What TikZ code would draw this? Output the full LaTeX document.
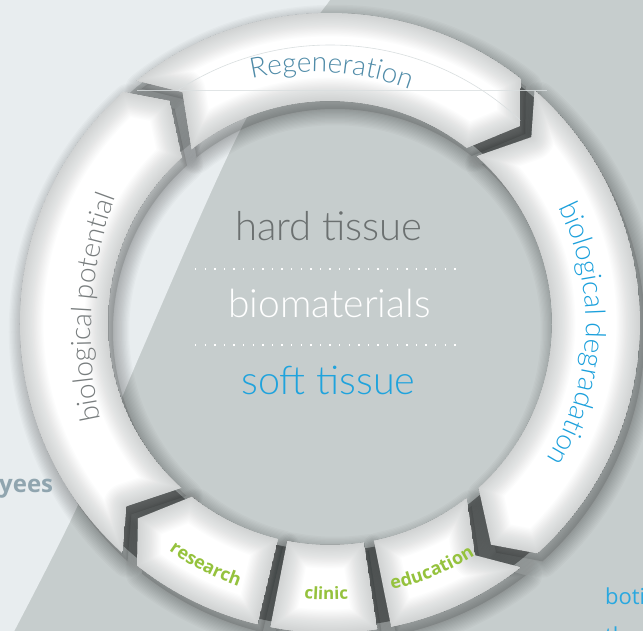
\documentclass[tikz,border=0pt]{standalone}
\usepackage{fontspec}
\usetikzlibrary{decorations.text}
\IfFontExistsTF{Lato Light}{\newfontfamily\thinf{Lato Light}}{%
  \IfFontExistsTF{Fira Sans Light}{\newfontfamily\thinf{Fira Sans Light}}{\newfontfamily\thinf{Liberation Sans}}}
\newfontfamily\labf{Open Sans}

\definecolor{bglight}{HTML}{E8EDEF}
\definecolor{bggray}{HTML}{C6CDCD}
\definecolor{gapdark}{HTML}{7A8080}
\definecolor{gaplight}{HTML}{C3C9CA}
\definecolor{edgegray}{HTML}{7C8282}
\definecolor{regblue}{HTML}{4F8BA8}
\definecolor{potgray}{HTML}{787D7E}
\definecolor{degblue}{HTML}{1BA0DC}
\definecolor{hardgray}{HTML}{6B7070}
\definecolor{softblue}{HTML}{1FA3DD}
\definecolor{lgreen}{HTML}{95C23D}
\definecolor{yeesgray}{HTML}{90A5AF}
\definecolor{botiblue}{HTML}{29A8E0}
\definecolor{faintline}{HTML}{DADFE0}

\def\RingOut{310}
\def\RingIn{222}
\def\RingMid{274}
\def\Chev{6}

% notch start, tip end
\newcommand\pathNT[2]{(#1:\RingOut) arc[start angle=#1,end angle=#2,radius=\RingOut] -- ({#2-\Chev}:\RingMid) -- (#2:\RingIn) arc[start angle=#2,end angle=#1,radius=\RingIn] -- ({#1-\Chev}:\RingMid) -- cycle}
% notch start, straight end
\newcommand\pathNS[2]{(#1:\RingOut) arc[start angle=#1,end angle=#2,radius=\RingOut] -- (#2:\RingIn) arc[start angle=#2,end angle=#1,radius=\RingIn] -- ({#1-\Chev}:\RingMid) -- cycle}
% straight both
\newcommand\pathSS[2]{(#1:\RingOut) arc[start angle=#1,end angle=#2,radius=\RingOut] -- (#2:\RingIn) arc[start angle=#2,end angle=#1,radius=\RingIn] -- cycle}
% straight start, tip end
\newcommand\pathST[2]{(#1:\RingOut) arc[start angle=#1,end angle=#2,radius=\RingOut] -- ({#2-\Chev}:\RingMid) -- (#2:\RingIn) arc[start angle=#2,end angle=#1,radius=\RingIn] -- cycle}

\def\SegPot{\pathNT{228}{131.8}}
\def\SegReg{\pathNT{128.6}{52}}
\def\SegDeg{\pathNT{48.7}{-48}}
\def\SegEdu{\pathNS{-52}{-78.6}}
\def\SegCli{\pathSS{-81.2}{-101.1}}
\def\SegRes{\pathST{-103.5}{-128.5}}

\newcommand\segshadow[1]{%
  \fill[black,opacity=0.12,shift={(5,-8)}] #1;
  \foreach \i [evaluate=\i as \ww using 2.5*\i] in {1,...,13}{\draw[black,opacity=0.018,line width=\ww,line join=round,shift={(5,-8)}] #1;}}
\newcommand\segface[1]{%
  \begin{scope}
    \clip #1;
    \fill[white] #1;
    \foreach \i [evaluate=\i as \ww using 2.6*\i] in {1,...,18}{\draw[edgegray,opacity=0.02,line width=\ww,line join=round] #1;}
  \end{scope}}

\tikzset{
  thintext/.style={font=\thinf\fontsize{#1}{40}\selectfont, inner sep=0pt, anchor=base},
  dotrule/.style={white, line width=2.8pt, dash pattern=on 1.5pt off 8.1pt},
  ringlabel/.style={decorate, decoration={text along path, text align=center, text={#1}}}
}

\begin{document}
\begin{tikzpicture}[x=1pt,y=1pt]
\useasboundingbox (-330,-308) rectangle (313,323);
\clip (-330,-308) rectangle (313,323);

% background
\fill[bggray] (-340,-320) rectangle (320,335);
\fill[bglight] (-340,335) -- plot[smooth] coordinates {(8,335) (0,323) (-84,204) (-191,-34) (-253,-184) (-322,-320)} -- (-340,-320) -- cycle;

% dark gaps between the pieces
\fill[gapdark, even odd rule] (0,0) circle[radius=304] (0,0) circle[radius=228];
\fill[gaplight] (120:305) arc[start angle=120,end angle=136,radius=305] -- (136:227) arc[start angle=136,end angle=120,radius=227] -- cycle;

% shadows
\segshadow{\SegPot}
\segshadow{\SegReg}
\segshadow{\SegDeg}
\segshadow{\SegEdu}
\segshadow{\SegCli}
\segshadow{\SegRes}

% faces
\segface{\SegPot}
\segface{\SegReg}
\segface{\SegDeg}
\segface{\SegEdu}
\segface{\SegCli}
\segface{\SegRes}

% faint guide lines on Regeneration
\begin{scope}
  \clip \SegReg;
  \draw[faintline, line width=0.6] (123:278) arc[start angle=123, end angle=46, radius=278];
\end{scope}
\coordinate (hla) at (-193,233);
\coordinate (hlb) at (217,233);
\draw[faintline, line width=0.6, opacity=0.8] (hla) -- (hlb);

% ring labels
\path[ringlabel={|\thinf\fontsize{28}{30}\selectfont\color{regblue}|Regeneration}]
  ([shift={(-18,-29)}]108:280) arc[start angle=108, end angle=64, radius=280];
\path[ringlabel={|\thinf\fontsize{28}{30}\selectfont\color{potgray}|biological potential}]
  ([shift={(154,-11.5)}]200:393) arc[start angle=200, end angle=152, radius=393];
\path[ringlabel={|\thinf\fontsize{28}{30}\selectfont\color{degblue}|biological degradation}]
  (32.4:256) arc[start angle=32.4, end angle=-37.6, radius=256];
\path[ringlabel={|\labf\bfseries\fontsize{18}{20}\selectfont\color{lgreen}|research}]
  (-137.2:279) arc[start angle=-137.2, end angle=-97.2, radius=279];
\path[ringlabel={|\labf\bfseries\fontsize{17}{20}\selectfont\color{lgreen}|clinic}]
  (-110.8:277) arc[start angle=-110.8, end angle=-70.8, radius=277];
\path[ringlabel={|\labf\bfseries\fontsize{18}{20}\selectfont\color{lgreen}|education}]
  (-87.5:274) arc[start angle=-87.5, end angle=-47.5, radius=274];

% centre texts
\node[thintext=40, text=hardgray] (hard) at (-1,82) {hard tissue};
\node[thintext=39, text=white] (bio) at (-0.5,5) {biomaterials};
\node[thintext=39.5, text=softblue] (soft) at (-1.5,-72) {soft tissue};
\coordinate (l1a) at (-135,54);
\coordinate (l1b) at (133,54);
\coordinate (l2a) at (-135,-22);
\coordinate (l2b) at (133,-22);
\draw[dotrule] (l1a) -- (l1b);
\draw[dotrule] (l2a) -- (l2b);

% cut-off page texts
\node[anchor=base west, inner sep=0pt, font=\labf\bfseries\fontsize{24}{24}\selectfont, text=yeesgray] (yees) at (-331,-170) {yees};
\node[anchor=base west, inner sep=0pt, font=\labf\fontsize{22}{22}\selectfont, text=botiblue] (boti) at (275,-282) {boti};
\node[anchor=base west, inner sep=0pt, font=\labf\fontsize{22}{22}\selectfont, text=botiblue] (th) at (275,-321) {th};
\end{tikzpicture}
\end{document}
